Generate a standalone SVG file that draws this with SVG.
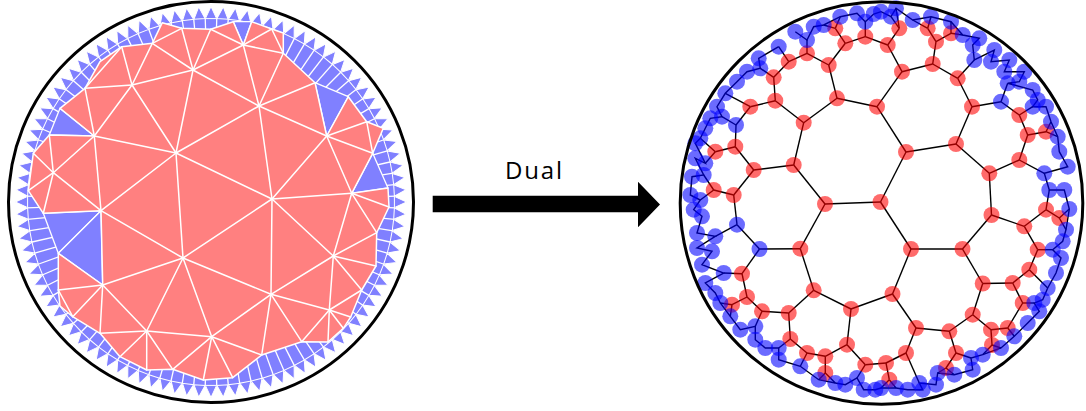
<svg xmlns="http://www.w3.org/2000/svg" xmlns:xlink="http://www.w3.org/1999/xlink" width="1086" height="411" viewBox="0 0 1086 411">
<style>
.wl{stroke:#fff;stroke-width:1.5;stroke-linecap:round}
.bt{fill:#8080ff;stroke:#fff;stroke-width:1.3;stroke-linejoin:round}
.ed line{stroke:#000;stroke-width:1.4}
.rn{fill:#ff0000;fill-opacity:0.58}
.bn{fill:#0000ff;fill-opacity:0.58}
.rim{fill:none;stroke:#000;stroke-width:3}
</style>
<defs>
<g id="tw">
<line x1="211" y1="52" x2="211" y2="17.5" transform="rotate(1.8 211 202)" stroke="#fff" stroke-width="1.3"/>
<polygon points="205.4,18.6 211,6.5 216.6,18.6" fill="#8080ff" stroke="#fff" stroke-width="1"/>
</g>
</defs>
<rect width="1086" height="411" fill="#fff"/>

<g id="triangulation">
<circle cx="211" cy="202" r="185" fill="#8080ff"/>
<g id="fringe">
<use xlink:href="#tw" transform="rotate(0 211 202)"/><use xlink:href="#tw" transform="rotate(3.6 211 202)"/><use xlink:href="#tw" transform="rotate(7.2 211 202)"/><use xlink:href="#tw" transform="rotate(10.8 211 202)"/><use xlink:href="#tw" transform="rotate(14.4 211 202)"/><use xlink:href="#tw" transform="rotate(18 211 202)"/><use xlink:href="#tw" transform="rotate(21.6 211 202)"/><use xlink:href="#tw" transform="rotate(25.2 211 202)"/><use xlink:href="#tw" transform="rotate(28.8 211 202)"/><use xlink:href="#tw" transform="rotate(32.4 211 202)"/>
<use xlink:href="#tw" transform="rotate(36 211 202)"/><use xlink:href="#tw" transform="rotate(39.6 211 202)"/><use xlink:href="#tw" transform="rotate(43.2 211 202)"/><use xlink:href="#tw" transform="rotate(46.8 211 202)"/><use xlink:href="#tw" transform="rotate(50.4 211 202)"/><use xlink:href="#tw" transform="rotate(54 211 202)"/><use xlink:href="#tw" transform="rotate(57.6 211 202)"/><use xlink:href="#tw" transform="rotate(61.2 211 202)"/><use xlink:href="#tw" transform="rotate(64.8 211 202)"/><use xlink:href="#tw" transform="rotate(68.4 211 202)"/>
<use xlink:href="#tw" transform="rotate(72 211 202)"/><use xlink:href="#tw" transform="rotate(75.6 211 202)"/><use xlink:href="#tw" transform="rotate(79.2 211 202)"/><use xlink:href="#tw" transform="rotate(82.8 211 202)"/><use xlink:href="#tw" transform="rotate(86.4 211 202)"/><use xlink:href="#tw" transform="rotate(90 211 202)"/><use xlink:href="#tw" transform="rotate(93.6 211 202)"/><use xlink:href="#tw" transform="rotate(97.2 211 202)"/><use xlink:href="#tw" transform="rotate(100.8 211 202)"/><use xlink:href="#tw" transform="rotate(104.4 211 202)"/>
<use xlink:href="#tw" transform="rotate(108 211 202)"/><use xlink:href="#tw" transform="rotate(111.6 211 202)"/><use xlink:href="#tw" transform="rotate(115.2 211 202)"/><use xlink:href="#tw" transform="rotate(118.8 211 202)"/><use xlink:href="#tw" transform="rotate(122.4 211 202)"/><use xlink:href="#tw" transform="rotate(126 211 202)"/><use xlink:href="#tw" transform="rotate(129.6 211 202)"/><use xlink:href="#tw" transform="rotate(133.2 211 202)"/><use xlink:href="#tw" transform="rotate(136.8 211 202)"/><use xlink:href="#tw" transform="rotate(140.4 211 202)"/>
<use xlink:href="#tw" transform="rotate(144 211 202)"/><use xlink:href="#tw" transform="rotate(147.6 211 202)"/><use xlink:href="#tw" transform="rotate(151.2 211 202)"/><use xlink:href="#tw" transform="rotate(154.8 211 202)"/><use xlink:href="#tw" transform="rotate(158.4 211 202)"/><use xlink:href="#tw" transform="rotate(162 211 202)"/><use xlink:href="#tw" transform="rotate(165.6 211 202)"/><use xlink:href="#tw" transform="rotate(169.2 211 202)"/><use xlink:href="#tw" transform="rotate(172.8 211 202)"/><use xlink:href="#tw" transform="rotate(176.4 211 202)"/>
<use xlink:href="#tw" transform="rotate(180 211 202)"/><use xlink:href="#tw" transform="rotate(183.6 211 202)"/><use xlink:href="#tw" transform="rotate(187.2 211 202)"/><use xlink:href="#tw" transform="rotate(190.8 211 202)"/><use xlink:href="#tw" transform="rotate(194.4 211 202)"/><use xlink:href="#tw" transform="rotate(198 211 202)"/><use xlink:href="#tw" transform="rotate(201.6 211 202)"/><use xlink:href="#tw" transform="rotate(205.2 211 202)"/><use xlink:href="#tw" transform="rotate(208.8 211 202)"/><use xlink:href="#tw" transform="rotate(212.4 211 202)"/>
<use xlink:href="#tw" transform="rotate(216 211 202)"/><use xlink:href="#tw" transform="rotate(219.6 211 202)"/><use xlink:href="#tw" transform="rotate(223.2 211 202)"/><use xlink:href="#tw" transform="rotate(226.8 211 202)"/><use xlink:href="#tw" transform="rotate(230.4 211 202)"/><use xlink:href="#tw" transform="rotate(234 211 202)"/><use xlink:href="#tw" transform="rotate(237.6 211 202)"/><use xlink:href="#tw" transform="rotate(241.2 211 202)"/><use xlink:href="#tw" transform="rotate(244.8 211 202)"/><use xlink:href="#tw" transform="rotate(248.4 211 202)"/>
<use xlink:href="#tw" transform="rotate(252 211 202)"/><use xlink:href="#tw" transform="rotate(255.6 211 202)"/><use xlink:href="#tw" transform="rotate(259.2 211 202)"/><use xlink:href="#tw" transform="rotate(262.8 211 202)"/><use xlink:href="#tw" transform="rotate(266.4 211 202)"/><use xlink:href="#tw" transform="rotate(270 211 202)"/><use xlink:href="#tw" transform="rotate(273.6 211 202)"/><use xlink:href="#tw" transform="rotate(277.2 211 202)"/><use xlink:href="#tw" transform="rotate(280.8 211 202)"/><use xlink:href="#tw" transform="rotate(284.4 211 202)"/>
<use xlink:href="#tw" transform="rotate(288 211 202)"/><use xlink:href="#tw" transform="rotate(291.6 211 202)"/><use xlink:href="#tw" transform="rotate(295.2 211 202)"/><use xlink:href="#tw" transform="rotate(298.8 211 202)"/><use xlink:href="#tw" transform="rotate(302.4 211 202)"/><use xlink:href="#tw" transform="rotate(306 211 202)"/><use xlink:href="#tw" transform="rotate(309.6 211 202)"/><use xlink:href="#tw" transform="rotate(313.2 211 202)"/><use xlink:href="#tw" transform="rotate(316.8 211 202)"/><use xlink:href="#tw" transform="rotate(320.4 211 202)"/>
<use xlink:href="#tw" transform="rotate(324 211 202)"/><use xlink:href="#tw" transform="rotate(327.6 211 202)"/><use xlink:href="#tw" transform="rotate(331.2 211 202)"/><use xlink:href="#tw" transform="rotate(334.8 211 202)"/><use xlink:href="#tw" transform="rotate(338.4 211 202)"/><use xlink:href="#tw" transform="rotate(342 211 202)"/><use xlink:href="#tw" transform="rotate(345.6 211 202)"/><use xlink:href="#tw" transform="rotate(349.2 211 202)"/><use xlink:href="#tw" transform="rotate(352.8 211 202)"/><use xlink:href="#tw" transform="rotate(356.4 211 202)"/>
</g>
<g id="big-blue">
<polygon class="bt" points="60,108.3 49.3,135 94.3,136"/>
<polygon class="bt" points="101,210.7 43.3,213.3 58.3,253.3"/>
<polygon class="bt" points="101,210.7 58.3,253.3 102.7,285"/>
<polygon class="bt" points="315,82.7 326.7,136 348.3,96.7"/>
<polygon class="bt" points="372.7,153.3 351.7,193.3 388,188"/>
<polygon class="bt" points="233.3,21.7 243.3,45 251.7,21.7"/>
</g>
<polygon id="red-region" points="121.7,46.7 152.3,43.3 162.3,22.7 181.7,28.3 210.7,29.3 233.3,21.7 243.3,45 251.7,21.7 271.7,29 283.3,33 283.3,53.3 315,82.7 326.7,136 348.3,96.7 366.7,121.7 383.3,128.3 372.7,153.3 351.7,193.3 388,188 389,207 376.7,232.7 376,266 361.7,290 350.7,317 343.3,328.3 328,342 301.7,341.7 261.7,355 232.7,377.7 203.3,380 172.7,369.3 146.7,370 120,356.7 100,333.3 72.7,316.7 60,306 58.3,290 58.3,253.3 102.7,285 101,210.7 43.3,213.3 28.3,190.7 33.3,153.3 49.3,135 94.3,136 60,108.3 85,88.3 100,61.7" fill="#ff8080" stroke="#fff" stroke-width="1.5" stroke-linejoin="round"/>
<g id="tri-edges" class="wl">
<line x1="176" y1="153" x2="193" y2="70"/><line x1="176" y1="153" x2="132" y2="85"/><line x1="176" y1="153" x2="94.3" y2="136"/><line x1="176" y1="153" x2="101" y2="210.7"/><line x1="176" y1="153" x2="183" y2="258"/><line x1="176" y1="153" x2="272" y2="199"/><line x1="176" y1="153" x2="259" y2="106"/>
<line x1="183" y1="258" x2="101" y2="210.7"/><line x1="183" y1="258" x2="102.7" y2="285"/><line x1="183" y1="258" x2="146.7" y2="331"/><line x1="183" y1="258" x2="211.7" y2="336.7"/><line x1="183" y1="258" x2="271" y2="294.3"/><line x1="183" y1="258" x2="272" y2="199"/>
<line x1="272" y1="199" x2="259" y2="106"/><line x1="272" y1="199" x2="326.7" y2="136"/><line x1="272" y1="199" x2="351.7" y2="193.3"/><line x1="272" y1="199" x2="333.3" y2="256"/><line x1="272" y1="199" x2="271" y2="294.3"/>
<line x1="259" y1="106" x2="193" y2="70"/><line x1="259" y1="106" x2="243.3" y2="45"/><line x1="259" y1="106" x2="283.3" y2="53.3"/><line x1="259" y1="106" x2="315" y2="82.7"/><line x1="259" y1="106" x2="326.7" y2="136"/>
<line x1="193" y1="70" x2="132" y2="85"/><line x1="193" y1="70" x2="152.3" y2="43.3"/><line x1="193" y1="70" x2="181.7" y2="28.3"/><line x1="193" y1="70" x2="210.7" y2="29.3"/><line x1="193" y1="70" x2="243.3" y2="45"/>
<line x1="132" y1="85" x2="152.3" y2="43.3"/><line x1="132" y1="85" x2="121.7" y2="46.7"/><line x1="132" y1="85" x2="85" y2="88.3"/><line x1="132" y1="85" x2="94.3" y2="136"/>
<line x1="94.3" y1="136" x2="85" y2="88.3"/><line x1="94.3" y1="136" x2="53.3" y2="172.7"/><line x1="94.3" y1="136" x2="101" y2="210.7"/>
<line x1="101" y1="210.7" x2="53.3" y2="172.7"/><line x1="53.3" y1="172.7" x2="49.3" y2="135"/><line x1="53.3" y1="172.7" x2="33.3" y2="153.3"/><line x1="53.3" y1="172.7" x2="28.3" y2="190.7"/><line x1="53.3" y1="172.7" x2="43.3" y2="213.3"/>
<line x1="102.7" y1="285" x2="58.3" y2="290"/><line x1="102.7" y1="285" x2="72.7" y2="316.7"/><line x1="102.7" y1="285" x2="100" y2="333.3"/><line x1="102.7" y1="285" x2="146.7" y2="331"/><line x1="58.3" y1="290" x2="72.7" y2="316.7"/>
<line x1="146.7" y1="331" x2="100" y2="333.3"/><line x1="146.7" y1="331" x2="120" y2="356.7"/><line x1="146.7" y1="331" x2="146.7" y2="370"/><line x1="146.7" y1="331" x2="172.7" y2="369.3"/><line x1="146.7" y1="331" x2="211.7" y2="336.7"/>
<line x1="211.7" y1="336.7" x2="172.7" y2="369.3"/><line x1="211.7" y1="336.7" x2="203.3" y2="380"/><line x1="211.7" y1="336.7" x2="232.7" y2="377.7"/><line x1="211.7" y1="336.7" x2="261.7" y2="355"/><line x1="211.7" y1="336.7" x2="271" y2="294.3"/>
<line x1="271" y1="294.3" x2="261.7" y2="355"/><line x1="271" y1="294.3" x2="301.7" y2="341.7"/><line x1="271" y1="294.3" x2="329.3" y2="310"/><line x1="271" y1="294.3" x2="333.3" y2="256"/>
<line x1="329.3" y1="310" x2="301.7" y2="341.7"/><line x1="329.3" y1="310" x2="328" y2="342"/><line x1="329.3" y1="310" x2="343.3" y2="328.3"/><line x1="329.3" y1="310" x2="350.7" y2="317"/><line x1="329.3" y1="310" x2="361.7" y2="290"/><line x1="333.3" y1="256" x2="329.3" y2="310"/>
<line x1="333.3" y1="256" x2="361.7" y2="290"/><line x1="333.3" y1="256" x2="376" y2="266"/><line x1="333.3" y1="256" x2="376.7" y2="232.7"/><line x1="333.3" y1="256" x2="351.7" y2="193.3"/>
<line x1="351.7" y1="193.3" x2="376.7" y2="232.7"/><line x1="351.7" y1="193.3" x2="389" y2="207"/><line x1="351.7" y1="193.3" x2="326.7" y2="136"/>
<line x1="326.7" y1="136" x2="366.7" y2="121.7"/><line x1="326.7" y1="136" x2="372.7" y2="153.3"/><line x1="366.7" y1="121.7" x2="372.7" y2="153.3"/>
<line x1="243.3" y1="45" x2="210.7" y2="29.3"/><line x1="243.3" y1="45" x2="271.7" y2="29"/><line x1="243.3" y1="45" x2="283.3" y2="53.3"/><line x1="283.3" y1="53.3" x2="271.7" y2="29"/>
<line x1="181.7" y1="28.3" x2="152.3" y2="43.3"/><line x1="121.7" y1="46.7" x2="85" y2="88.3"/>
</g>
<ellipse class="rim" cx="211" cy="202" rx="202.5" ry="200.5"/>
</g>

<g id="arrow">
<path d="M432.7,195.7 H638 V181.7 L660,204.5 L638,227.3 V212.3 H432.7 Z" fill="#000"/>
<text x="505" y="179" font-family="'Open Sans','Liberation Sans',sans-serif" font-size="24" textLength="57" lengthAdjust="spacing" fill="#000">Dual</text>
</g>

<g id="dual">
<g id="connectors" class="ed">
<line x1="880.5" y1="202" x2="825" y2="204"/><line x1="880.5" y1="202" x2="906" y2="152"/><line x1="880.5" y1="202" x2="911" y2="249"/>
<line x1="825" y1="204" x2="793.7" y2="165"/><line x1="825" y1="204" x2="800.3" y2="248.7"/>
<line x1="793.7" y1="165" x2="753.7" y2="170"/><line x1="793.7" y1="165" x2="803.7" y2="122.7"/>
<line x1="803.7" y1="122.7" x2="837" y2="98.3"/><line x1="803.7" y1="122.7" x2="775.3" y2="100.7"/>
<line x1="837" y1="98.3" x2="877" y2="106.7"/><line x1="837" y1="98.3" x2="828.7" y2="65"/>
<line x1="877" y1="106.7" x2="906" y2="152"/><line x1="877" y1="106.7" x2="902" y2="71.7"/>
<line x1="828.7" y1="65" x2="807" y2="53.3"/><line x1="828.7" y1="65" x2="845.3" y2="43.3"/>
<line x1="807" y1="53.3" x2="788.7" y2="61.7"/><line x1="788.7" y1="61.7" x2="773.7" y2="77.3"/><line x1="773.7" y1="77.3" x2="775.3" y2="100.7"/><line x1="775.3" y1="100.7" x2="750.3" y2="106.7"/>
<line x1="750.3" y1="106.7" x2="736" y2="125"/><line x1="736" y1="125" x2="735.3" y2="146.7"/><line x1="735.3" y1="146.7" x2="753.7" y2="170"/><line x1="735.3" y1="146.7" x2="715.3" y2="151.7"/>
<line x1="753.7" y1="170" x2="733.7" y2="195"/><line x1="733.7" y1="195" x2="737" y2="224.7"/><line x1="733.7" y1="195" x2="713.7" y2="190"/>
<line x1="737" y1="224.7" x2="759.5" y2="249"/><line x1="759.5" y1="249" x2="800.3" y2="248.7"/><line x1="759.5" y1="249" x2="742" y2="273.7"/>
<line x1="800.3" y1="248.7" x2="813.7" y2="290.3"/><line x1="813.7" y1="290.3" x2="851" y2="309"/><line x1="813.7" y1="290.3" x2="788.7" y2="313"/>
<line x1="851" y1="309" x2="892.5" y2="294"/><line x1="851" y1="309" x2="847" y2="344.7"/>
<line x1="788.7" y1="313" x2="762" y2="311.3"/><line x1="788.7" y1="313" x2="790.3" y2="339"/>
<line x1="762" y1="311.3" x2="747" y2="297"/><line x1="747" y1="297" x2="742" y2="273.7"/><line x1="747" y1="297" x2="732" y2="304.7"/>
<line x1="790.3" y1="339" x2="807" y2="353"/><line x1="807" y1="353" x2="825.3" y2="356.3"/><line x1="825.3" y1="356.3" x2="847" y2="344.7"/><line x1="825.3" y1="356.3" x2="825.3" y2="373"/>
<line x1="847" y1="344.7" x2="865.3" y2="364.7"/><line x1="865.3" y1="364.7" x2="886" y2="363"/>
<line x1="845.3" y1="43.3" x2="865.3" y2="36.7"/><line x1="845.3" y1="43.3" x2="835.3" y2="28.3"/>
<line x1="865.3" y1="36.7" x2="887.7" y2="45"/><line x1="887.7" y1="45" x2="902" y2="71.7"/><line x1="887.7" y1="45" x2="899.3" y2="28.3"/>
<line x1="902" y1="71.7" x2="932.7" y2="64"/><line x1="932.7" y1="64" x2="957.7" y2="78.3"/><line x1="932.7" y1="64" x2="936" y2="41.7"/>
<line x1="936" y1="41.7" x2="927.7" y2="28.3"/><line x1="936" y1="41.7" x2="951" y2="33.3"/>
<line x1="957.7" y1="78.3" x2="972" y2="106.7"/><line x1="972" y1="106.7" x2="956" y2="144"/><line x1="956" y1="144" x2="906" y2="152"/><line x1="956" y1="144" x2="989.3" y2="173.3"/>
<line x1="1019.3" y1="115" x2="1027.7" y2="135"/><line x1="1027.7" y1="135" x2="1019.3" y2="160"/><line x1="1027.7" y1="135" x2="1046" y2="131.7"/>
<line x1="1019.3" y1="160" x2="989.3" y2="173.3"/><line x1="989.3" y1="173.3" x2="991.5" y2="215"/>
<line x1="991.5" y1="215" x2="962.5" y2="249"/><line x1="991.5" y1="215" x2="1024.3" y2="226.3"/>
<line x1="1024.3" y1="226.3" x2="1046" y2="209.7"/><line x1="1024.3" y1="226.3" x2="1037.7" y2="249.7"/><line x1="1046" y1="209.7" x2="1059.3" y2="218"/>
<line x1="1037.7" y1="249.7" x2="1029.3" y2="269.7"/><line x1="1029.3" y1="269.7" x2="1012.7" y2="283"/><line x1="1012.7" y1="283" x2="982.7" y2="283.5"/><line x1="1012.7" y1="283" x2="1022.7" y2="303"/>
<line x1="982.7" y1="283.5" x2="962.5" y2="249"/><line x1="982.7" y1="283.5" x2="972.7" y2="314.7"/><line x1="962.5" y1="249" x2="911" y2="249"/>
<line x1="911" y1="249" x2="892.5" y2="294"/><line x1="892.5" y1="294" x2="916" y2="328"/>
<line x1="916" y1="328" x2="949.3" y2="331.3"/><line x1="916" y1="328" x2="906" y2="353"/>
<line x1="949.3" y1="331.3" x2="972.7" y2="314.7"/><line x1="949.3" y1="331.3" x2="956" y2="353"/>
<line x1="972.7" y1="314.7" x2="991" y2="329.7"/><line x1="991" y1="329.7" x2="1007.7" y2="328"/><line x1="991" y1="329.7" x2="992" y2="345"/>
<line x1="1007.7" y1="328" x2="1022.7" y2="303"/><line x1="956" y1="353" x2="946" y2="368"/><line x1="906" y1="353" x2="886" y2="363"/><line x1="886" y1="363" x2="889.3" y2="379.7"/>
<line x1="807" y1="53.3" x2="807" y2="40"/><line x1="788.7" y1="61.7" x2="778.7" y2="46.7"/><line x1="773.7" y1="77.3" x2="760.3" y2="68.3"/><line x1="750.3" y1="106.7" x2="725.3" y2="93.3"/>
<line x1="736" y1="125" x2="722" y2="116.7"/><line x1="715.3" y1="151.7" x2="700.3" y2="138.3"/><line x1="715.3" y1="151.7" x2="705.3" y2="163.3"/>
<line x1="713.7" y1="190" x2="703.7" y2="175"/><line x1="713.7" y1="190" x2="700.3" y2="200"/><line x1="737" y1="224.7" x2="715.3" y2="236.3"/>
<line x1="742" y1="273.7" x2="723.7" y2="273"/><line x1="732" y1="304.7" x2="720.3" y2="303"/><line x1="732" y1="304.7" x2="730.3" y2="316.3"/>
<line x1="762" y1="311.3" x2="755.3" y2="326.3"/><line x1="790.3" y1="339" x2="778.7" y2="348"/><line x1="807" y1="353" x2="800.3" y2="366.3"/>
<line x1="825.3" y1="373" x2="818.7" y2="379.7"/><line x1="825.3" y1="373" x2="835.3" y2="383"/><line x1="865.3" y1="364.7" x2="857" y2="378"/>
<line x1="889.3" y1="379.7" x2="881" y2="388"/><line x1="889.3" y1="379.7" x2="896" y2="388"/><line x1="906" y1="353" x2="919.3" y2="383"/>
<line x1="946" y1="368" x2="937.7" y2="373"/><line x1="946" y1="368" x2="954.3" y2="374.7"/><line x1="956" y1="353" x2="971" y2="358"/>
<line x1="992" y1="345" x2="982.7" y2="354.7"/><line x1="992" y1="345" x2="1001" y2="348"/><line x1="1007.7" y1="328" x2="1014.3" y2="336.3"/>
<line x1="1022.7" y1="303" x2="1034.3" y2="303"/><line x1="1029.3" y1="269.7" x2="1047.7" y2="288"/><line x1="1037.7" y1="249.7" x2="1052.7" y2="249.7"/>
<line x1="1059.3" y1="218" x2="1069.3" y2="209"/><line x1="1059.3" y1="218" x2="1066" y2="229.7"/><line x1="1046" y1="209.7" x2="1049.3" y2="190"/>
<line x1="1019.3" y1="160" x2="1044.3" y2="173.3"/><line x1="1046" y1="131.7" x2="1051" y2="121.7"/><line x1="1046" y1="131.7" x2="1057.7" y2="136.7"/>
<line x1="1019.3" y1="115" x2="1032.7" y2="106.7"/><line x1="1019.3" y1="115" x2="1001" y2="101.7"/><line x1="972" y1="106.7" x2="1001" y2="101.7"/><line x1="1001" y1="101.7" x2="1007.7" y2="83.3"/>
<line x1="957.7" y1="78.3" x2="974.3" y2="60"/><line x1="951" y1="33.3" x2="951" y2="21.7"/><line x1="951" y1="33.3" x2="962.7" y2="35"/>
<line x1="927.7" y1="28.3" x2="931" y2="16.7"/><line x1="927.7" y1="28.3" x2="912.7" y2="20"/><line x1="899.3" y1="28.3" x2="896" y2="8.3"/><line x1="899.3" y1="28.3" x2="891" y2="16.7"/>
<line x1="865.3" y1="36.7" x2="865.3" y2="21.7"/><line x1="835.3" y1="28.3" x2="823.7" y2="25"/><line x1="835.3" y1="28.3" x2="840.3" y2="16.7"/>
<polyline points="795.3,31.7 807,40 813.7,26.7 823.7,25 840.3,16.7 857,13.3 865.3,21.7 873.7,14 881,11.7 891,16.7 896,8.3 912.7,20 931,16.7 951,21.7 962.7,35 979.3,38.3 972.7,45 974.3,60 994.3,50 991,61.7 1009.3,60 1004.3,71.7 1024.3,71.7 1019.3,81.7 1007.7,83.3 1032.7,90 1037.7,100 1032.7,106.7 1046,106.7 1051,121.7 1057.7,136.7 1059.3,151.7 1067.7,166.7 1044.3,173.3 1049.3,190 1064.3,190 1069.3,209 1066,229.7 1062.7,241.3 1052.7,249.7 1061,258 1056,273 1047.7,288 1042.7,299.7 1034.3,303 1039.3,311.3 1027.7,323 1014.3,336.3 1001,348 982.7,354.7 971,358 972.7,369.7 954.3,374.7 937.7,373 936,384.7 919.3,383 922.7,389.7 907.7,389.7 896,388 881,388 875.3,389.7 863.7,389.7 857,378 845.3,384.7 835.3,383 818.7,379.7 800.3,366.3 778.7,359.7 778.7,348 765.3,348 755.3,339.7 755.3,326.3 740.3,329.7 730.3,316.3 720.3,303 715.3,293 705.3,283 723.7,273 702,264.7 712,251.3 697,248 715.3,236.3 697,233 702,216.3 693.7,209.7 700.3,200 690.3,195 692,176.7 703.7,175 695.3,158.3 705.3,163.3 695.3,143.3 700.3,138.3 705.3,128.3 710.3,118.3 722,116.7 717,106.7 725.3,93.3 737,81.7 747,71.7 760.3,68.3 758.7,58.3 778.7,46.7" fill="none" stroke="#000" stroke-width="1.4"/>
</g>
<g id="red-nodes" class="rn">
<g id="r1"><circle cx="880.5" cy="202" r="8"/></g><g id="r2"><circle cx="825" cy="204" r="8"/></g><g id="r3"><circle cx="793.7" cy="165" r="8"/></g><g id="r4"><circle cx="753.7" cy="170" r="8"/></g><g id="r5"><circle cx="803.7" cy="122.7" r="8"/></g>
<g id="r6"><circle cx="837" cy="98.3" r="8"/></g><g id="r7"><circle cx="877" cy="106.7" r="8"/></g><g id="r8"><circle cx="828.7" cy="65" r="8"/></g><g id="r9"><circle cx="807" cy="53.3" r="8"/></g><g id="r10"><circle cx="788.7" cy="61.7" r="8"/></g>
<g id="r11"><circle cx="773.7" cy="77.3" r="8"/></g><g id="r12"><circle cx="775.3" cy="100.7" r="8"/></g><g id="r13"><circle cx="750.3" cy="106.7" r="8"/></g><g id="r14"><circle cx="735.3" cy="146.7" r="8"/></g><g id="r15"><circle cx="715.3" cy="151.7" r="8"/></g>
<g id="r16"><circle cx="733.7" cy="195" r="8"/></g><g id="r17"><circle cx="713.7" cy="190" r="8"/></g><g id="r18"><circle cx="845.3" cy="43.3" r="8"/></g><g id="r19"><circle cx="865.3" cy="36.7" r="8"/></g><g id="r20"><circle cx="835.3" cy="28.3" r="8"/></g>
<g id="r21"><circle cx="906" cy="152" r="8"/></g><g id="r22"><circle cx="956" cy="144" r="8"/></g><g id="r23"><circle cx="972" cy="106.7" r="8"/></g><g id="r24"><circle cx="957.7" cy="78.3" r="8"/></g><g id="r25"><circle cx="932.7" cy="64" r="8"/></g>
<g id="r26"><circle cx="902" cy="71.7" r="8"/></g><g id="r27"><circle cx="887.7" cy="45" r="8"/></g><g id="r28"><circle cx="899.3" cy="28.3" r="8"/></g><g id="r29"><circle cx="936" cy="41.7" r="8"/></g><g id="r30"><circle cx="927.7" cy="28.3" r="8"/></g>
<g id="r30b"><circle cx="951" cy="33.3" r="8"/></g><g id="r31"><circle cx="1019.3" cy="115" r="8"/></g><g id="r32"><circle cx="1027.7" cy="135" r="8"/></g><g id="r33"><circle cx="1019.3" cy="160" r="8"/></g><g id="r34"><circle cx="989.3" cy="173.3" r="8"/></g>
<g id="r35"><circle cx="1046" cy="131.7" r="8"/></g><g id="r36"><circle cx="991.5" cy="215" r="8"/></g><g id="r40"><circle cx="800.3" cy="248.7" r="8"/></g><g id="r41"><circle cx="813.7" cy="290.3" r="8"/></g><g id="r42"><circle cx="851" cy="309" r="8"/></g>
<g id="r44"><circle cx="788.7" cy="313" r="8"/></g><g id="r45"><circle cx="762" cy="311.3" r="8"/></g><g id="r46"><circle cx="747" cy="297" r="8"/></g><g id="r47"><circle cx="742" cy="273.7" r="8"/></g><g id="r48"><circle cx="790.3" cy="339" r="8"/></g>
<g id="r49"><circle cx="807" cy="353" r="8"/></g><g id="r50"><circle cx="825.3" cy="356.3" r="8"/></g><g id="r51"><circle cx="847" cy="344.7" r="8"/></g><g id="r52"><circle cx="865.3" cy="364.7" r="8"/></g><g id="r53"><circle cx="825.3" cy="373" r="8"/></g>
<g id="r54"><circle cx="732" cy="304.7" r="8"/></g><g id="r61"><circle cx="1024.3" cy="226.3" r="8"/></g><g id="r62"><circle cx="1046" cy="209.7" r="8"/></g><g id="r63"><circle cx="1059.3" cy="218" r="8"/></g><g id="r64"><circle cx="1037.7" cy="249.7" r="8"/></g>
<g id="r65"><circle cx="1029.3" cy="269.7" r="8"/></g><g id="r66"><circle cx="1012.7" cy="283" r="8"/></g><g id="r67"><circle cx="982.7" cy="283.5" r="8"/></g><g id="r68"><circle cx="962.5" cy="249" r="8"/></g><g id="r69"><circle cx="911" cy="249" r="8"/></g>
<g id="r70"><circle cx="892.5" cy="294" r="8"/></g><g id="r71"><circle cx="916" cy="328" r="8"/></g><g id="r72"><circle cx="949.3" cy="331.3" r="8"/></g><g id="r73"><circle cx="972.7" cy="314.7" r="8"/></g><g id="r74"><circle cx="991" cy="329.7" r="8"/></g>
<g id="r75"><circle cx="1007.7" cy="328" r="8"/></g><g id="r76"><circle cx="1022.7" cy="303" r="8"/></g><g id="r77"><circle cx="956" cy="353" r="8"/></g><g id="r78"><circle cx="946" cy="368" r="8"/></g><g id="r79"><circle cx="906" cy="353" r="8"/></g>
<g id="r80"><circle cx="886" cy="363" r="8"/></g><g id="r81"><circle cx="889.3" cy="379.7" r="8"/></g><g id="r82"><circle cx="992" cy="345" r="8"/></g>
</g>
<g id="blue-nodes" class="bn">
<g id="B1"><circle cx="759.5" cy="249" r="8"/></g><g id="B2"><circle cx="737" cy="224.7" r="8"/></g><g id="Bz"><circle cx="736" cy="125" r="8"/></g><g id="b31"><circle cx="1001" cy="101.7" r="8"/></g>
<g id="b1"><circle cx="778.7" cy="46.7" r="8"/></g><g id="b2"><circle cx="795.3" cy="31.7" r="8"/></g><g id="b3"><circle cx="807" cy="40" r="8"/></g><g id="b4"><circle cx="813.7" cy="26.7" r="8"/></g><g id="b5"><circle cx="823.7" cy="25" r="8"/></g>
<g id="b6"><circle cx="840.3" cy="16.7" r="8"/></g><g id="b7"><circle cx="857" cy="13.3" r="8"/></g><g id="b8"><circle cx="865.3" cy="21.7" r="8"/></g><g id="b9"><circle cx="873.7" cy="14" r="8"/></g><g id="b10"><circle cx="881" cy="11.7" r="8"/></g>
<g id="b11"><circle cx="891" cy="16.7" r="8"/></g><g id="b12"><circle cx="896" cy="8.3" r="8"/></g><g id="b13"><circle cx="912.7" cy="20" r="8"/></g><g id="b14"><circle cx="931" cy="16.7" r="8"/></g><g id="b15"><circle cx="951" cy="21.7" r="8"/></g>
<g id="b16"><circle cx="962.7" cy="35" r="8"/></g><g id="b17"><circle cx="979.3" cy="38.3" r="8"/></g><g id="b18"><circle cx="972.7" cy="45" r="8"/></g><g id="b19"><circle cx="974.3" cy="60" r="8"/></g><g id="b20"><circle cx="994.3" cy="50" r="8"/></g>
<g id="b21"><circle cx="991" cy="61.7" r="8"/></g><g id="b22"><circle cx="1009.3" cy="60" r="8"/></g><g id="b23"><circle cx="1004.3" cy="71.7" r="8"/></g><g id="b24"><circle cx="1024.3" cy="71.7" r="8"/></g><g id="b25"><circle cx="1019.3" cy="81.7" r="8"/></g>
<g id="b26"><circle cx="1007.7" cy="83.3" r="8"/></g><g id="b27"><circle cx="1032.7" cy="90" r="8"/></g><g id="b28"><circle cx="1037.7" cy="100" r="8"/></g><g id="b29"><circle cx="1032.7" cy="106.7" r="8"/></g><g id="b30"><circle cx="1046" cy="106.7" r="8"/></g>
<g id="b32"><circle cx="1051" cy="121.7" r="8"/></g><g id="b33"><circle cx="1057.7" cy="136.7" r="8"/></g><g id="b34"><circle cx="1059.3" cy="151.7" r="8"/></g><g id="b35"><circle cx="1067.7" cy="166.7" r="8"/></g><g id="b36"><circle cx="1044.3" cy="173.3" r="8"/></g>
<g id="b37"><circle cx="1049.3" cy="190" r="8"/></g><g id="b38"><circle cx="1064.3" cy="190" r="8"/></g><g id="b39"><circle cx="1069.3" cy="209" r="8"/></g><g id="b40"><circle cx="1066" cy="229.7" r="8"/></g><g id="b41"><circle cx="1062.7" cy="241.3" r="8"/></g>
<g id="b42"><circle cx="1052.7" cy="249.7" r="8"/></g><g id="b43"><circle cx="1061" cy="258" r="8"/></g><g id="b44"><circle cx="1056" cy="273" r="8"/></g><g id="b45"><circle cx="1047.7" cy="288" r="8"/></g><g id="b46"><circle cx="1042.7" cy="299.7" r="8"/></g>
<g id="b47"><circle cx="1034.3" cy="303" r="8"/></g><g id="b48"><circle cx="1039.3" cy="311.3" r="8"/></g><g id="b49"><circle cx="1027.7" cy="323" r="8"/></g><g id="b50"><circle cx="1014.3" cy="336.3" r="8"/></g><g id="b51"><circle cx="1001" cy="348" r="8"/></g>
<g id="b52"><circle cx="982.7" cy="354.7" r="8"/></g><g id="b53"><circle cx="971" cy="358" r="8"/></g><g id="b54"><circle cx="972.7" cy="369.7" r="8"/></g><g id="b55"><circle cx="954.3" cy="374.7" r="8"/></g><g id="b56"><circle cx="937.7" cy="373" r="8"/></g>
<g id="b57"><circle cx="936" cy="384.7" r="8"/></g><g id="b58"><circle cx="919.3" cy="383" r="8"/></g><g id="b59"><circle cx="922.7" cy="389.7" r="8"/></g><g id="b60"><circle cx="907.7" cy="389.7" r="8"/></g><g id="b61"><circle cx="896" cy="388" r="8"/></g>
<g id="b62"><circle cx="881" cy="388" r="8"/></g><g id="b63"><circle cx="875.3" cy="389.7" r="8"/></g><g id="b64"><circle cx="863.7" cy="389.7" r="8"/></g><g id="b65"><circle cx="857" cy="378" r="8"/></g><g id="b66"><circle cx="845.3" cy="384.7" r="8"/></g>
<g id="b67"><circle cx="835.3" cy="383" r="8"/></g><g id="b68"><circle cx="818.7" cy="379.7" r="8"/></g><g id="b69"><circle cx="800.3" cy="366.3" r="8"/></g><g id="b70"><circle cx="778.7" cy="359.7" r="8"/></g><g id="b71"><circle cx="778.7" cy="348" r="8"/></g>
<g id="b72"><circle cx="765.3" cy="348" r="8"/></g><g id="b73"><circle cx="755.3" cy="339.7" r="8"/></g><g id="b74"><circle cx="755.3" cy="326.3" r="8"/></g><g id="b75"><circle cx="740.3" cy="329.7" r="8"/></g><g id="b76"><circle cx="730.3" cy="316.3" r="8"/></g>
<g id="b77"><circle cx="720.3" cy="303" r="8"/></g><g id="b78"><circle cx="715.3" cy="293" r="8"/></g><g id="b79"><circle cx="705.3" cy="283" r="8"/></g><g id="b80"><circle cx="723.7" cy="273" r="8"/></g><g id="b81"><circle cx="702" cy="264.7" r="8"/></g>
<g id="b82"><circle cx="712" cy="251.3" r="8"/></g><g id="b83"><circle cx="697" cy="248" r="8"/></g><g id="b84"><circle cx="715.3" cy="236.3" r="8"/></g><g id="b85"><circle cx="697" cy="233" r="8"/></g><g id="b86"><circle cx="702" cy="216.3" r="8"/></g>
<g id="b87"><circle cx="693.7" cy="209.7" r="8"/></g><g id="b88"><circle cx="700.3" cy="200" r="8"/></g><g id="b89"><circle cx="690.3" cy="195" r="8"/></g><g id="b90"><circle cx="692" cy="176.7" r="8"/></g><g id="b91"><circle cx="703.7" cy="175" r="8"/></g>
<g id="b92"><circle cx="695.3" cy="158.3" r="8"/></g><g id="b93"><circle cx="705.3" cy="163.3" r="8"/></g><g id="b94"><circle cx="695.3" cy="143.3" r="8"/></g><g id="b95"><circle cx="700.3" cy="138.3" r="8"/></g><g id="b96"><circle cx="705.3" cy="128.3" r="8"/></g>
<g id="b97"><circle cx="710.3" cy="118.3" r="8"/></g><g id="b98"><circle cx="722" cy="116.7" r="8"/></g><g id="b99"><circle cx="717" cy="106.7" r="8"/></g><g id="b100"><circle cx="725.3" cy="93.3" r="8"/></g><g id="b101"><circle cx="737" cy="81.7" r="8"/></g>
<g id="b102"><circle cx="747" cy="71.7" r="8"/></g><g id="b103"><circle cx="760.3" cy="68.3" r="8"/></g><g id="b104"><circle cx="758.7" cy="58.3" r="8"/></g>
</g>
<ellipse class="rim" cx="881.5" cy="203" rx="201.3" ry="201.3"/>
</g>
</svg>
